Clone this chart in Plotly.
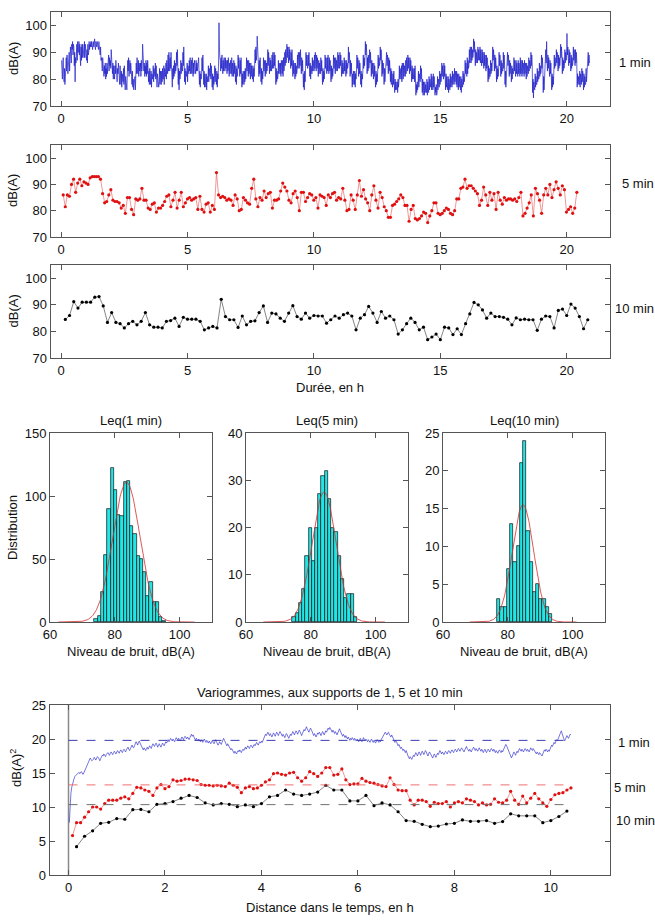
import numpy as np
import plotly.graph_objects as go

# ---------------- DATA ----------------
# Leq 1 min series (dB(A)), one value per minute
leq1 = [
87,84,80,86,88, 82,79,84,78,81, 84,88,83,89,86, 82,88,84,90,83, 87,92,89,86,93, 91,94,89,93,92,
85,90,79,88,86, 89,93,87,94,90, 90,94,89,93,88, 85,92,87,93,88, 93,89,92,88,94, 88,93,90,92,87,
91,86,93,89,90, 94,91,93,92,94, 92,94,93,91,94, 94,92,93,95,92, 91,94,93,92,94, 92,93,91,94,92,
91,89,92,87,88, 86,83,88,84,87, 81,85,82,86,80, 84,81,86,82,85, 84,89,83,88,85, 87,84,91,86,83,
82,86,80,85,83, 80,85,82,87,81, 85,79,84,82,86, 80,84,78,85,83, 78,83,77,82,80, 79,84,78,85,81,
76,81,77,80,76, 82,87,83,88,81, 83,87,82,86,84, 81,78,83,77,80, 76,80,77,81,76, 80,86,82,88,83,
82,87,81,86,83, 84,86,81,87,83, 84,93,86,88,83, 86,81,85,82,87, 81,86,82,87,83, 79,83,78,84,80,
78,83,77,82,80, 80,85,79,84,82, 81,86,80,85,82, 77,82,78,81,77, 79,84,78,83,80, 78,83,79,84,80,
80,85,78,84,82, 81,86,80,87,83, 82,89,83,90,84, 83,88,84,90,82, 79,77,84,80,85, 81,87,82,86,83,
84,90,85,91,83, 78,84,76,83,80, 81,87,82,86,84, 83,90,85,92,84, 79,84,78,83,81, 81,86,79,85,82,
82,87,83,88,82, 83,87,82,88,84, 81,86,82,87,83, 84,82,87,83,86, 83,87,84,88,82, 78,83,77,82,80,
82,88,83,89,84, 78,83,77,82,79, 77,82,76,81,79, 80,85,79,84,82, 81,86,80,85,82, 77,82,76,81,78,
80,85,79,84,81, 78,83,77,82,80, 86,101,92,88,87, 83,88,84,89,85, 82,87,83,88,84, 83,88,84,87,84,
82,87,83,88,84, 81,86,82,87,83, 82,88,81,86,84, 81,87,82,86,83, 79,85,78,84,81, 83,89,84,88,85,
81,87,82,88,84, 77,82,78,83,79, 78,83,79,84,80, 82,88,83,87,84, 81,87,82,86,83, 80,86,81,85,82,
80,85,79,84,81, 85,91,86,92,87, 89,96,90,91,88, 81,87,82,88,83, 79,84,78,83,80, 82,88,83,87,84,
81,87,82,86,83, 84,91,85,90,86, 82,88,83,87,84, 83,89,84,90,86, 84,90,85,89,86, 78,84,79,83,80,
81,87,82,86,83, 82,86,81,87,83, 82,87,81,88,83, 84,90,85,91,86, 87,93,88,92,89, 86,92,87,91,88,
84,90,85,91,86, 81,87,82,86,83, 80,86,81,85,82, 83,89,84,90,85, 84,90,85,91,87, 82,88,83,87,84,
77,82,76,83,79, 84,90,85,89,86, 84,89,85,90,86, 81,86,80,85,83, 82,88,83,87,84, 83,89,84,90,85,
83,89,84,88,85, 81,87,82,86,83, 82,88,83,87,84, 78,84,79,83,80, 83,89,84,88,85, 82,88,83,89,84,
82,88,83,87,84, 79,85,80,84,81, 83,89,84,88,85, 82,88,83,87,84, 83,90,84,89,85, 84,90,85,89,86,
81,87,82,86,83, 82,88,83,87,84, 81,87,82,86,84, 85,92,86,90,87, 81,87,82,86,83, 77,82,78,83,79,
78,83,77,82,80, 83,89,84,88,85, 81,87,82,86,83, 78,83,77,82,80, 83,89,84,88,85, 88,94,89,93,90,
82,88,83,89,84, 85,91,86,90,87, 81,87,82,86,84, 80,86,81,85,82, 77,83,78,82,79, 83,89,84,88,85,
86,92,87,91,89, 81,87,82,86,83, 78,84,79,83,80, 84,90,85,89,86, 82,88,83,87,84, 79,84,78,83,80,
77,82,78,83,79, 75,80,76,79,77, 76,79,75,80,77, 79,85,80,84,81, 80,85,79,86,81, 80,86,81,85,83,
81,87,82,88,83, 83,89,84,88,85, 82,88,83,87,84, 79,85,80,84,81, 80,84,79,85,81, 74,78,75,79,76,
78,83,77,82,80, 79,85,80,84,81, 75,80,74,79,76, 74,79,75,78,76, 75,80,74,79,76, 75,81,76,80,77,
77,82,76,81,79, 76,82,77,81,78, 74,77,75,78,74, 75,81,76,80,77, 77,83,78,82,79, 80,86,81,85,82,
80,86,81,85,82, 76,82,77,81,78, 76,81,75,80,77, 76,82,77,81,78, 77,83,78,82,79, 78,84,79,83,80,
78,83,77,82,80, 76,82,77,81,78, 76,81,75,80,77, 77,83,78,82,79, 81,87,82,86,84, 81,88,82,87,84,
85,91,86,92,88, 86,92,87,91,88, 89,95,90,94,91, 85,91,86,90,88, 86,92,87,91,89, 87,92,86,91,88,
85,91,86,90,88, 84,90,85,89,87, 83,89,84,88,86, 79,85,80,84,81, 81,87,82,86,83, 86,92,87,91,88,
83,89,84,88,85, 79,85,80,84,81, 84,90,85,89,86, 81,87,82,86,83, 83,90,84,89,85, 78,83,77,82,80,
84,90,85,89,86, 81,87,82,86,83, 79,85,80,84,82, 82,88,83,87,84, 81,87,82,86,83, 81,87,82,86,84,
81,88,82,87,83, 81,87,82,86,83, 81,87,82,86,84, 80,86,81,85,83, 82,88,83,87,84, 84,90,85,89,86,
75,80,73,79,77, 76,82,77,81,78, 78,84,79,83,80, 80,86,81,85,82, 83,89,84,88,85, 75,81,76,80,77,
85,91,86,94,87, 83,89,84,88,86, 81,87,82,86,83, 76,82,77,81,78, 83,89,84,88,85, 85,91,86,90,88,
83,89,84,88,85, 87,93,88,92,89, 82,88,83,87,84, 85,91,86,90,87, 88,97,89,92,88, 85,91,86,90,88,
83,89,84,88,85, 86,92,87,91,89, 85,91,86,90,87, 77,82,78,81,79, 78,83,77,82,80, 78,84,79,83,81,
76,82,77,81,78, 78,84,79,83,81, 84,90,85,89,86,
]

# Leq 5 min series
leq5 = [
86,81.5,86,85.5,90,92, 87,90.5,92,89.5,91,90.5, 90,92.5,93,93,93,93, 92,86.5,83,83.5,86,88,
84,83.5,83.5,83,81,82, 79,85,85,80.5,78.5,84.5, 84,84.5,88.5,84,84,81, 80.5,82.5,83,79.5,81,81,
82,83.5,85.5,86,81.5,84, 87,81,84,87,81.5,83, 84.5,85,84,84.5,85,80.5, 85.5,80.5,79.5,82.5,83,79.5,
82,80.5,94.5,86,85,85.5, 85,84,84.5,84,82,86, 84.5,80,80.5,85,84,83, 82.5,88.5,92,84.5,81.5,85,
84,87.5,85,86.5,87,81, 84,84,84.5,87.5,90.5,89, 87.5,84,83,86.5,87.5,85, 80,87,87,83.5,85,86.5,
86,84,85,81,86,85.5, 85,82,86,85,86.5,87, 84,85,84.5,88.5,84,80, 80.5,86,84,80.5,86,91.5,
85.5,88,84.5,83,80,86, 89.5,84,81,87,85,81.5, 80,77.5,77.5,82,82.5,83.5, 84.5,86,85,82,82,76,
80.5,82,77,76.5,77,78, 79.5,79,75.5,78,80,83, 83,79,78.5,79,80,81, 80.5,79,78.5,80,84.5,84.5,
88.5,89,92,88.5,89.5,89.5, 88.5,87.5,86.5,82,84,89, 86,82,87,84,86.5,80.5, 87,84,82.5,85,84,84.5,
84.5,84,84.5,83.5,85,87, 78,79,81,83,86,78, 88.5,86.5,84,79,86,88.5, 86,90,85,88,91,88.5,
86,89.5,88,79.5,80.5,81.5, 79,81,87,
]

# Leq 10 min series
leq10 = [
84.5,86,91.2,88.8,91,91,91,92.9,93.1,89.6,
83.4,87.1,83.4,82.9,81.3,82.9,83.8,82.5,83.8,87.1,
82.5,81.6,81.6,81.3,83.8,84.1,85,81.9,85.3,84.6,
84.6,84.6,83.8,80.6,81.3,81.9,81.3,92.1,85.6,84.4,
84.4,81.5,85.8,82.5,83.8,84,87.1,89.6,83.4,86.9,
86.6,85,83.8,86.9,89.7,85.6,84.6,86.9,85,86,
85.8,85.8,83.1,84.4,85.8,85,86.3,86.9,85.8,80.6,
85,86.3,89.4,86.9,83.4,87.5,85,85.8,84.4,79,
80.6,82.9,85,83.4,80.6,81.6,76.9,77.9,79,76.9,
81.6,81.3,78.8,81,78.8,82.9,86.6,90.9,90,88.1,
85,86.9,85.6,85.6,85.3,84.6,82.5,85.1,84.4,84.6,
84.4,84.4,80.4,84.6,85.8,85.6,81.3,87.9,88.4,86,
90.3,88.8,85.6,81,84.4,
]

# Histograms (bin centres, counts) and fitted normal curves (mean, sd, peak)
hist1_centers = [74.2,75.2,76.2,77.2,78.2,79.2,80.2,81.2,82.2,83.2,84.2,85.2,86.2,87.2,88.2,89.2,90.2,91.2,92.2,93.2,94.2,95.2]
hist1_counts = [2,5,24,53,90,122,105,85,84,111,112,76,70,52,50,40,21,32,16,16,4,1]
hist2_centers = [74.8,75.8,76.8,77.8,78.8,79.8,80.8,81.8,82.8,83.8,84.8,85.8,86.8,87.8,88.8,89.8,90.8,91.8,92.8,93.8]
hist2_counts = [1,2,4,7,14,20,13,20,27,31,32,26,20,19,14,9,5,6,6,1]
hist3_centers = [77.2,78.2,79.2,80.2,81.2,82.2,83.2,84.2,85.2,86.2,87.2,88.2,89.2,90.2,91.2,92.2,93.2]
hist3_counts = [3,2,2,7,13,8,10,21,24,12,8,4,5,3,3,2,1]
fit_mean = [83.6, 84.1, 84.7]
fit_sd = [4.2, 3.75, 3.3]
fit_peak = [111, 27.5, 15.5]

# Variograms
vario1 = [
7.7,10.5,12.0,12.9,13.5,13.9,14.2,14.5,14.6,14.8, 14.9,15.0,15.1,14.9,15.0,15.2,15.0,14.8,15.0,15.3, 15.6,15.9,16.2,16.5,16.8,17.0,17.2,17.0,16.8,16.9,
17.0,17.3,17.1,16.9,17.2,17.4,17.3,17.0,16.8,17.1, 17.4,17.6,17.5,17.8,17.6,17.4,17.7,17.9,18.0,17.8, 17.6,17.9,18.1,17.9,17.7,18.0,18.2,18.0,17.8,18.1,
18.3,18.1,17.9,18.2,18.4,18.2,18.0,18.3,18.5,18.3, 18.1,18.4,18.6,18.8,18.5,18.3,18.6,18.9,19.1,18.8, 18.7,19.0,19.3,19.6,19.4,19.1,19.5,19.7,19.4,19.2,
18.9,18.6,18.4,18.7,18.5,18.3,18.6,18.8,18.5,18.7, 19.0,18.8,18.6,19.0,19.3,19.1,18.9,19.2,19.4,19.1, 18.8,19.1,19.3,19.0,18.8,19.1,19.4,19.2,19.0,19.3,
19.6,19.4,19.7,19.9,19.6,19.8,20.1,19.9,19.7,20.0, 19.8,19.6,19.9,20.2,20.0,19.8,20.1,19.9,19.7,20.0, 20.3,20.1,19.9,20.2,20.4,20.2,20.0,20.3,20.1,19.9,
20.2,20.5,20.7,20.4,20.6,20.3,20.0,19.8,20.1,19.9, 19.7,20.0,19.8,19.6,19.9,19.7,19.5,19.8,20.0,19.7, 19.5,19.8,19.6,19.4,19.7,19.5,19.3,19.6,19.8,19.5,
19.3,19.6,19.9,19.6,19.4,19.1,19.3,19.6,19.4,19.2, 19.5,19.8,20.1,19.8,19.5,19.2,19.0,19.3,19.1,18.8, 18.6,18.4,18.6,18.3,18.1,17.9,18.2,18.0,17.8,18.1,
18.3,18.1,18.4,18.2,18.0,18.3,18.5,18.3,18.6,18.8, 18.5,18.7,19.0,18.8,18.6,18.9,19.1,18.9,18.7,19.0, 19.2,19.0,19.3,19.5,19.3,19.1,19.4,19.6,19.4,19.7,
19.5,19.8,20.1,20.4,20.7,20.5,20.8,21.0,20.7,20.5, 20.8,20.6,20.3,20.6,20.9,20.7,20.4,20.7,21.0,20.8, 20.5,20.8,21.1,20.9,20.6,20.4,20.7,20.5,20.2,20.5,
20.8,20.6,20.3,20.1,20.4,20.7,20.5,20.8,21.1,20.9, 20.6,20.9,21.2,21.0,20.7,21.0,21.3,21.1,20.8,20.5, 20.8,21.1,21.4,21.2,21.5,21.8,21.5,21.2,21.0,21.3,
21.6,21.4,21.0,20.7,20.5,20.8,20.6,20.3,20.6,20.9, 20.7,21.0,20.8,20.5,20.8,21.1,20.9,20.6,20.9,21.2, 21.0,21.3,21.6,21.4,21.7,21.5,21.2,21.0,21.3,21.1,
20.8,21.1,20.9,20.6,20.9,21.2,21.5,21.2,20.9,20.6, 20.4,20.7,20.5,20.2,20.5,20.3,20.0,20.3,20.1,19.8, 20.1,19.9,20.2,20.0,19.8,20.1,19.9,19.7,20.0,19.8,
19.6,19.9,20.1,19.8,19.6,19.9,20.2,19.9,19.7,20.0, 19.8,19.6,19.9,19.7,19.5,19.8,20.0,19.7,19.5,19.8, 19.6,19.4,19.7,19.9,19.7,19.5,19.8,19.6,19.9,20.1,
20.4,20.7,20.9,21.0,20.8,20.6,20.9,21.0,20.7,20.5, 20.3,20.6,20.4,20.1,19.8,19.5,19.8,19.6,19.3,19.0, 19.2,18.9,18.6,18.8,18.5,18.3,18.5,18.2,18.0,18.3,
17.9,17.6,17.3,17.1,17.4,17.2,17.0,17.3,17.6,17.4, 17.7,18.0,17.8,17.5,17.8,18.1,17.9,17.6,17.9,18.2, 18.0,17.7,18.0,18.3,18.1,17.8,17.5,17.8,18.1,17.9,
17.6,17.4,17.2,17.5,17.8,17.6,17.3,17.6,17.9,17.7, 18.0,18.3,18.1,17.8,18.1,17.9,17.7,18.0,18.2,18.0, 17.8,18.1,18.3,18.1,17.9,18.2,18.4,18.2,18.0,18.3,
18.5,18.3,18.1,18.4,18.6,18.4,18.2,18.5,18.7,18.5, 18.3,18.1,18.4,18.7,18.9,18.6,18.4,18.2,18.5,18.3, 18.1,18.4,18.6,18.8,18.5,18.3,18.6,18.4,18.2,18.5,
18.7,18.4,18.2,18.5,18.3,18.0,18.3,18.5,18.2,18.0, 18.3,18.5,18.3,18.1,18.4,18.6,18.4,18.2,18.5,18.3, 18.0,18.3,18.1,17.9,18.2,18.4,18.2,18.0,18.3,18.1,
18.4,18.6,18.9,19.2,19.0,18.7,18.4,18.1,17.8,17.5, 17.2,17.5,17.8,18.1,17.9,17.6,17.9,18.2,18.0,18.3, 18.6,18.4,18.2,18.5,18.3,18.1,18.4,18.6,18.4,18.2,
18.5,18.3,18.1,18.4,18.7,18.5,18.3,18.6,18.4,18.2, 18.0,17.8,18.1,17.9,17.7,18.0,17.8,17.6,17.5,17.8, 18.1,18.4,18.2,18.5,18.3,18.1,18.4,18.2,18.5,18.8,
19.1,18.9,19.2,19.5,19.3,19.6,19.9,19.7,20.0,20.3, 20.6,20.9,21.2,20.8,20.4,20.0,19.7,19.9,20.2,20.5, 20.3,20.1,20.4,20.7,20.6,
]
vario5 = [
5.8,7.7,7.7,8.5,9.3,10.0,10.0,9.7,10.5,11.0,11.0,11.0,
11.3,11.5,11.2,12.0,12.9,12.8,12.5,12.3,11.7,12.8,13.3,12.7,
13.0,14.0,13.8,13.9,14.1,14.1,14.0,13.9,13.3,13.2,13.2,13.1,
13.2,13.1,13.0,13.5,13.2,12.9,12.1,12.8,13.0,12.7,12.8,13.2,
13.7,14.0,14.9,15.0,14.8,14.7,15.0,15.1,14.3,13.8,14.3,15.2,
14.9,14.5,15.0,15.8,15.8,14.7,14.8,15.6,14.0,13.3,13.4,13.4,
14.2,13.8,13.6,13.5,13.3,13.1,13.0,14.3,13.3,12.5,12.4,12.4,
11.0,10.3,11.0,11.0,10.8,10.1,10.7,10.5,10.5,10.8,10.0,10.6,
10.8,10.6,11.2,11.0,10.8,10.3,10.6,10.3,10.4,11.2,10.7,10.6,
11.0,12.3,11.0,10.4,11.6,10.6,11.3,12.0,11.2,10.6,10.1,11.1,
11.8,12.0,12.1,12.5,12.8,
]
vario10 = [
4.17,5.7,6.5,7.6,7.75,8.3,8.2,9.6,9.65,9.3,10.4,10.5,
10.8,11.3,11.7,11.4,10.6,10.3,10.5,10.4,10.05,10.3,10.05,10.5,
11.5,11.7,12.5,11.9,11.7,11.9,12.2,13.2,12.5,12.5,10.9,10.9,
11.7,10.2,10.6,10.3,9.3,8.0,7.9,7.45,7.1,7.2,7.5,7.6,
8.1,7.9,7.9,8.0,7.6,7.85,9.0,8.7,8.7,8.7,7.7,8.0,
8.6,9.4,
]
sills = [19.8, 13.25, 10.35]

supports = ["1 min", "5 min", "10 min"]
hist_titles = ["Leq(1 min)", "Leq(5 min)", "Leq(10 min)"]

# ---------------- FIGURE ----------------
W, H = 655, 920
FONT = "Liberation Sans, Arial, Helvetica, sans-serif"
BLUE = "#1c1cc8"
RED = "#e01010"
BLACK = "#000000"
CYAN = "#22e6e6"

def xd(a, b):
    return [a / W, b / W]

def yd(top, bottom):
    return [1 - bottom / H, 1 - top / H]

t1 = np.linspace(1 / 60, 20.9, len(leq1))
t5 = np.linspace(5 / 60, 20.4, len(leq5))
t10 = np.arange(1, len(leq10) + 1) * 10 / 60
lag1 = np.arange(1, len(vario1) + 1) / 60
lag5 = np.arange(1, len(vario5) + 1) * 5 / 60
lag10 = np.arange(1, len(vario10) + 1) * 10 / 60

fig = go.Figure()

# time series
fig.add_trace(go.Scatter(x=t1, y=leq1, mode="lines", line=dict(color=BLUE, width=0.7),
                         xaxis="x", yaxis="y", showlegend=False))
fig.add_trace(go.Scatter(x=t5, y=leq5, mode="lines+markers", line=dict(color="#e85050", width=0.6),
                         marker=dict(color=RED, size=3.2), xaxis="x2", yaxis="y2", showlegend=False))
fig.add_trace(go.Scatter(x=t10, y=leq10, mode="lines+markers", line=dict(color="#333333", width=0.6),
                         marker=dict(color=BLACK, size=3.2), xaxis="x3", yaxis="y3", showlegend=False))

# histograms
hists = [(hist1_centers, hist1_counts), (hist2_centers, hist2_counts), (hist3_centers, hist3_counts)]
for i, (c, n) in enumerate(hists):
    ax = str(4 + i)
    fig.add_trace(go.Bar(x=c, y=n, width=1.0, marker=dict(color=CYAN, line=dict(color="#111", width=0.7)),
                         xaxis="x" + ax, yaxis="y" + ax, showlegend=False))
    m, s, p = fit_mean[i], fit_sd[i], fit_peak[i]
    xx = np.linspace(m - 5 * s, m + 5 * s, 200)
    yy = p * np.exp(-0.5 * ((xx - m) / s) ** 2)
    fig.add_trace(go.Scatter(x=xx, y=yy, mode="lines", line=dict(color="#d03030", width=0.8),
                             xaxis="x" + ax, yaxis="y" + ax, showlegend=False))

# variograms
fig.add_trace(go.Scatter(x=[0, 0], y=[0, 25], mode="lines", line=dict(color="#8a8a8a", width=1.5),
                         xaxis="x7", yaxis="y7", showlegend=False))
fig.add_trace(go.Scatter(x=lag1, y=vario1, mode="lines", line=dict(color="#3a3ad0", width=0.7),
                         xaxis="x7", yaxis="y7", showlegend=False))
fig.add_trace(go.Scatter(x=lag5, y=vario5, mode="lines+markers", line=dict(color="#e85050", width=0.6),
                         marker=dict(color=RED, size=3.2), xaxis="x7", yaxis="y7", showlegend=False))
fig.add_trace(go.Scatter(x=lag10, y=vario10, mode="lines+markers", line=dict(color="#333", width=0.6),
                         marker=dict(color=BLACK, size=3.2), xaxis="x7", yaxis="y7", showlegend=False))
sill_cols = ["#3a3ab0", "#f07070", "#707070"]
for s, col in zip(sills, sill_cols):
    fig.add_trace(go.Scatter(x=[0.0, 10.42], y=[s, s], mode="lines", line=dict(color=col, width=1, dash="dash"),
                             xaxis="x7", yaxis="y7", showlegend=False))

axis_style = dict(showline=True, linecolor="#555", linewidth=1, mirror="allticks", ticks="inside",
                  ticklen=5, tickcolor="#555", showgrid=False, zeroline=False, automargin=False,
                  tickfont=dict(size=13, color="#111", family=FONT))

layout = dict(width=W, height=H, margin=dict(l=0, r=0, t=0, b=0), template="none",
              paper_bgcolor="white", plot_bgcolor="white", font=dict(family=FONT, size=13, color="#111"),
              showlegend=False, bargap=0)

ts_rows = [(12, 106), (145, 237), (265, 358)]
for i, (top, bot) in enumerate(ts_rows):
    sfx = "" if i == 0 else str(i + 1)
    layout["xaxis" + sfx] = dict(axis_style, domain=xd(50.5, 609.7), range=[-0.42, 21.7],
                                 tickvals=[0, 5, 10, 15, 20], anchor="y" + sfx)
    layout["yaxis" + sfx] = dict(axis_style, domain=yd(top, bot), range=[70, 105],
                                 tickvals=[70, 80, 90, 100], anchor="x" + sfx)

hist_x = [(50, 212), (246, 408), (443, 605)]
hist_y = [([0, 150], [0, 50, 100, 150]), ([0, 40], [0, 10, 20, 30, 40]), ([0, 25], [0, 5, 10, 15, 20, 25])]
for i in range(3):
    k = str(4 + i)
    layout["xaxis" + k] = dict(axis_style, domain=xd(*hist_x[i]), range=[60, 110],
                               tickvals=[60, 80, 100], anchor="y" + k)
    layout["yaxis" + k] = dict(axis_style, domain=yd(433, 622), range=hist_y[i][0],
                               tickvals=hist_y[i][1], anchor="x" + k)

layout["xaxis7"] = dict(axis_style, domain=xd(49.7, 609.7), range=[-0.39, 11.22],
                        tickvals=[0, 2, 4, 6, 8, 10], anchor="y7")
layout["yaxis7"] = dict(axis_style, domain=yd(705, 875), range=[0, 25],
                        tickvals=[0, 5, 10, 15, 20, 25], anchor="x7")

ann = []
def text(x, y, s, size=13, angle=0):
    ann.append(dict(x=x / W, y=1 - y / H, xref="paper", yref="paper", text=s, showarrow=False,
                    textangle=angle, xanchor="center", yanchor="middle",
                    font=dict(size=size, family=FONT, color="#111")))

for (top, bot) in ts_rows:
    text(13, (top + bot) / 2, "dB(A)", angle=-90)
text(635, 63, supports[0])
text(638, 183, supports[1])
text(634, 308, supports[2])
text(330, 387, "Durée, en h")

for i, (a, b) in enumerate(hist_x):
    text((a + b) / 2, 420, hist_titles[i])
    text((a + b) / 2, 651, "Niveau de bruit, dB(A)")
text(12, 528, "Distribution", angle=-90)

text(330, 692, "Variogrammes, aux supports de 1, 5 et 10 min")
text(330, 907, "Distance dans le temps, en h")
text(16, 768, "dB(A)<sup>2</sup>", angle=-90)
text(634, 742, supports[0])
text(630, 787, supports[1])
text(635, 820, supports[2])

layout["annotations"] = ann
fig.update_layout(**layout)
fig.write_html("out.html", config={"displayModeBar": False},
               post_script="document.body.style.margin='0';document.body.style.padding='0';document.body.style.overflow='hidden';")
